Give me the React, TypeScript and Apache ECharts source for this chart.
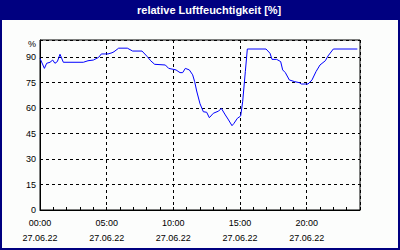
import React, { useEffect, useRef } from "react";
import * as echarts from "echarts";

const TITLE = "relative Luftfeuchtigkeit [%]";
const DATE_LABEL = "27.06.22";
const X_TICK_HOURS = [0, 5, 10, 15, 20];
const Y_UNIT = "%";

// [hour of day, relative humidity %]
const HUMIDITY: [number, number][] = [
  [0, 89.2], [0.33, 83.3], [0.5, 86.3], [0.75, 86.9], [0.95, 88.2], [1.12, 86.3],
  [1.3, 87.3], [1.5, 91.6], [1.75, 86.9], [3.25, 86.9], [3.6, 87.8], [4.0, 88.2],
  [4.4, 89.8], [4.6, 91.8], [5.1, 91.8], [5.4, 92.5], [5.55, 93.1], [5.9, 95.2],
  [6.55, 95.2], [6.95, 93.5], [7.65, 93.5], [8.05, 90.2], [8.3, 87.8], [8.6, 85.7],
  [9.4, 85.3], [9.65, 83.3], [10.2, 82.4], [10.5, 80.8], [10.7, 80.8], [10.9, 83.3],
  [11.2, 82.4], [11.45, 79.5], [11.6, 75.5], [11.75, 70.0], [12.0, 62.5], [12.25, 57.8],
  [12.5, 57.5], [12.7, 54.3], [13.0, 56.9], [13.4, 58.2], [13.6, 59.8], [13.9, 55.9],
  [14.1, 53.5], [14.4, 49.6], [14.55, 51.0], [14.8, 53.9], [15.05, 55.3], [15.2, 63.7],
  [15.4, 81.4], [15.55, 94.7], [16.95, 94.7], [17.25, 92.2], [17.4, 88.6], [17.75, 88.6],
  [18.05, 87.3], [18.2, 82.4], [18.4, 80.8], [18.7, 76.5], [19.1, 75.5], [19.45, 74.9],
  [19.6, 74.1], [20.1, 74.1], [20.4, 76.5], [20.7, 81.4], [21.0, 85.3], [21.4, 87.8],
  [21.6, 90.6], [22.0, 94.7], [23.8, 94.7],
];

const pad = (n: number) => (n < 10 ? "0" + n : "" + n);

export default function App() {
  const ref = useRef<HTMLDivElement>(null);
  useEffect(() => {
    document.body.style.margin = "0";
    if (!ref.current) return;
    const chart = echarts.init(ref.current, null, { renderer: "svg" });
    const font = "'Liberation Sans', Arial, sans-serif";
    const dashed = { color: "#000", width: 1, type: [3, 3] as any };
    chart.setOption({
      animation: false,
      backgroundColor: "#fcfdfc",
      textStyle: { fontFamily: font },
      grid: {
        left: 40, top: 40, right: 40, bottom: 40,
        show: true, borderColor: "#000", borderWidth: 1, backgroundColor: "transparent",
      },
      xAxis: {
        type: "value", min: 0, max: 24, interval: 5,
        axisLine: { show: true, lineStyle: { color: "#000", width: 1 } },
        axisTick: { show: true, inside: true, length: 3, lineStyle: { color: "#000" } },
        minorTick: { show: true, splitNumber: 5, length: 3, lineStyle: { color: "#000" } },
        splitLine: { show: true, lineStyle: dashed },
        axisLabel: {
          color: "#000", fontSize: 9, fontFamily: font, margin: 5, lineHeight: 15,
          showMaxLabel: false,
          formatter: (v: number) =>
            X_TICK_HOURS.includes(v) ? `${pad(v)}:00\n${DATE_LABEL}` : "",
        },
      },
      yAxis: {
        type: "value", min: 0, max: 100, interval: 15,
        axisLine: { show: true, lineStyle: { color: "#000", width: 1 } },
        axisTick: { show: false },
        splitLine: { show: true, lineStyle: dashed },
        axisLabel: {
          color: "#000", fontSize: 9, fontFamily: font, margin: 4,
          formatter: (v: number) => (v === 100 ? "" : String(v)),
        },
      },
      graphic: [
        { type: "rect", shape: { x: 0, y: 0, width: 400, height: 20 }, style: { fill: "#000080" }, z: 10 },
        {
          type: "rect", shape: { x: 1, y: 1, width: 398, height: 248 },
          style: { fill: "none", stroke: "#000080", lineWidth: 2 }, z: 10,
        },
        {
          type: "text", x: 137, y: 10, z: 11,
          style: {
            text: TITLE, fill: "#fff", font: `bold 11px ${font}`,
            textAlign: "left", textVerticalAlign: "middle",
          },
        },
        {
          type: "text", x: 36, y: 44, z: 11,
          style: {
            text: Y_UNIT, fill: "#000", font: `9px ${font}`,
            textAlign: "right", textVerticalAlign: "middle",
          },
        },
      ],
      series: [
        {
          type: "line", data: HUMIDITY, showSymbol: false, symbol: "none",
          lineStyle: { color: "#0000ff", width: 1 }, z: 5,
        },
      ],
    });
    return () => chart.dispose();
  }, []);
  return <div ref={ref} style={{ width: 400, height: 250 }} />;
}
